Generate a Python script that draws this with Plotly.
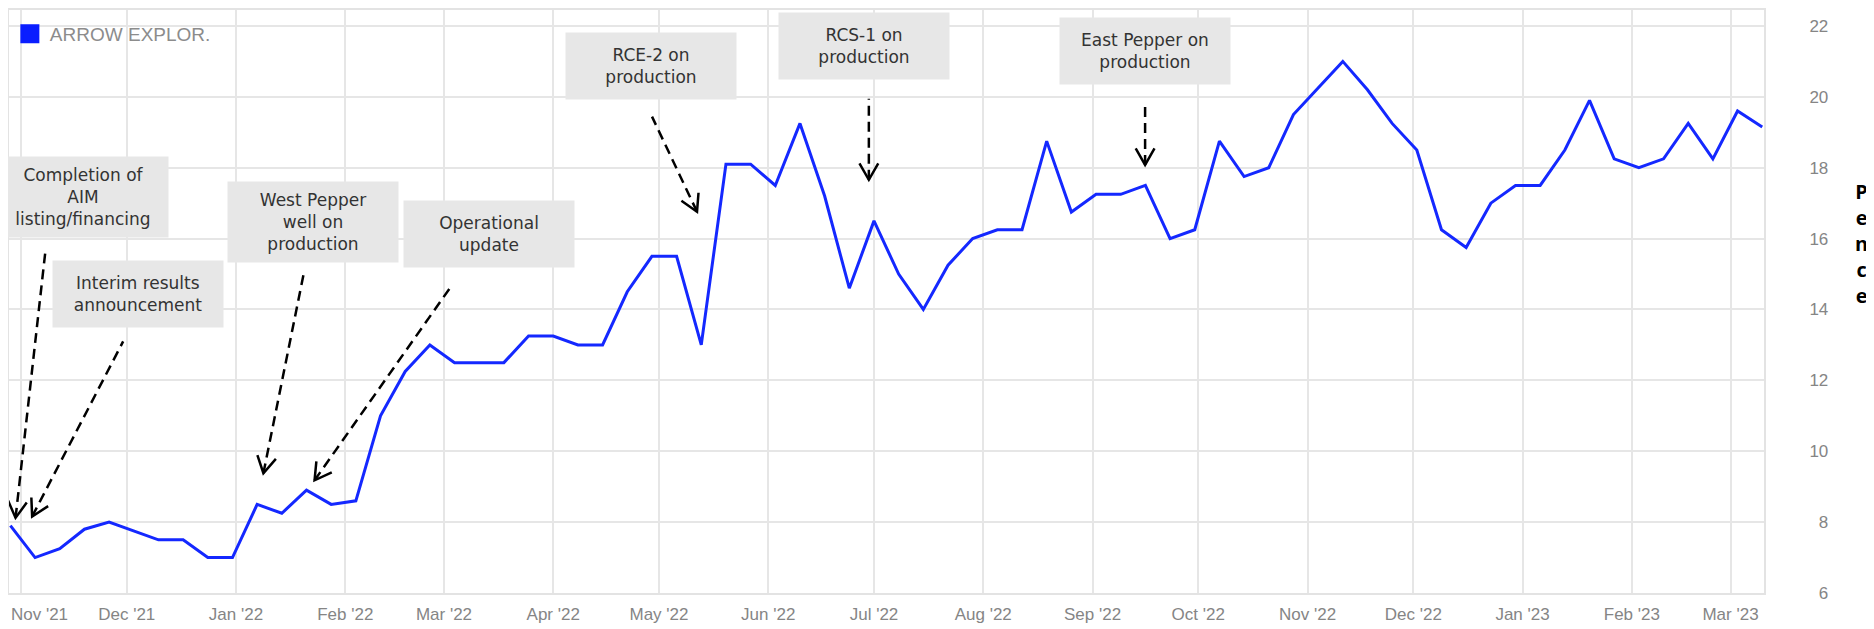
import math
import pandas as pd
import plotly.graph_objects as go

# weekly closes, pence
datas = pd.date_range("2021-10-29", periods=72, freq="7D")
precos = [
    7.9, 7.0, 7.25, 7.8, 8.0, 7.75, 7.5, 7.5, 7.0, 7.0, 8.5, 8.25, 8.9, 8.5, 8.6,
    11.0, 12.25, 13.0, 12.5, 12.5, 12.5, 13.25, 13.25, 13.0, 13.0,
    14.5, 15.5, 15.5, 13.0, 18.1, 18.1, 17.5, 19.25, 17.2, 14.6, 16.5, 15.0, 14.0,
    15.25, 16.0, 16.25, 16.25, 18.75, 16.75, 17.25, 17.25, 17.5, 16.0, 16.25,
    18.75, 17.75, 18.0, 19.5, 20.25, 21.0, 20.2, 19.25, 18.5, 16.25, 15.75, 17.0,
    17.5, 17.5, 18.5, 19.9, 18.25, 18.0, 18.25, 19.25, 18.25, 19.6, 19.15,
]

meses = pd.date_range("2021-11-01", "2023-03-01", freq="MS")
meses_texto = [m.strftime("%b '%y") for m in meses]
# label positions: the first one sits a few days right of its gridline
rotulos_x = [pd.Timestamp("2021-11-06 06:00")] + list(meses[1:])

y_ticks = list(range(6, 23, 2))
y_texto = [("\u2007" + str(v)) if v < 10 else str(v) for v in y_ticks]

# event boxes: text, centre date, centre price, box height
eventos_texto = [
    "Completion of<br>AIM<br>listing/financing",
    "Interim results<br>announcement",
    "West Pepper<br>well on<br>production",
    "Operational<br>update",
    "RCE-2 on<br>production",
    "RCS-1 on<br>production",
    "East Pepper on<br>production",
]
eventos_x = ["2021-11-18 14:00", "2021-12-04 05:00", "2022-01-22 19:00", "2022-03-13 17:00",
             "2022-04-28 17:00", "2022-06-28 02:00", "2022-09-15 20:00"]
eventos_y = [17.18, 14.43, 16.46, 16.12, 20.87, 21.44, 21.30]
eventos_h = [80, 66, 80, 66, 66, 66, 66]

# arrows: tip (date, price) and tail offset in pixels (right, up)
setas_x = ["2021-10-30 11:00", "2021-11-04 04:00", "2022-01-08 18:30", "2022-01-23 07:00",
           "2022-05-11 19:00", "2022-06-29 13:00", "2022-09-15 22:00"]
setas_y = [8.12, 8.16, 9.38, 9.18, 16.76, 17.66, 18.08]
setas_dx = [30, 91, 40, 138, -45, 0, 0]
setas_dy = [268, 175, 198, 196, 95, 81, 63]

fig = go.Figure()
fig.add_trace(go.Scatter(x=datas, y=precos, mode="lines", line=dict(color="#1428ff", width=3),
                         showlegend=False, hoverinfo="x+y"))
fig.add_trace(go.Scatter(x=[None], y=[None], mode="markers", name="ARROW EXPLOR.",
                         marker=dict(symbol="square", size=16, color="#0a1eff",
                                     line=dict(color="#0a1eff", width=3))))
# carrier for the label axis
fig.add_trace(go.Scatter(x=[datas[0]], y=[None], xaxis="x2", mode="lines",
                         showlegend=False, hoverinfo="skip"))

for texto, x, y, h in zip(eventos_texto, eventos_x, eventos_y, eventos_h):
    fig.add_annotation(x=x, y=y, xref="x", yref="y", text=texto, showarrow=False,
                       bgcolor="#e7e7e7", width=170, height=h, borderpad=0,
                       font=dict(family="DejaVu Sans", size=17, color="#333333"))

for x, y, dx, dy in zip(setas_x, setas_y, setas_dx, setas_dy):
    fig.add_shape(type="line", xref="x", yref="y", xsizemode="pixel", ysizemode="pixel",
                  xanchor=x, yanchor=y, x0=0, y0=0, x1=dx, y1=dy,
                  line=dict(color="black", width=2.5, dash="10px,6px"))
    ang = math.atan2(dy, dx)
    braco = []
    for d in (-0.52, 0.52):
        braco.append((19 * math.cos(ang + d), 19 * math.sin(ang + d)))
    caminho = f"M {braco[0][0]:.1f},{braco[0][1]:.1f} L 0,0 L {braco[1][0]:.1f},{braco[1][1]:.1f}"
    fig.add_shape(type="path", xref="x", yref="y", xsizemode="pixel", ysizemode="pixel",
                  xanchor=x, yanchor=y, path=caminho, line=dict(color="black", width=2.5))

fig.add_annotation(x=1.0555, y=0.6, xref="paper", yref="paper", xanchor="center", yanchor="middle",
                   text="<b>P<br>e<br>n<br>c<br>e</b>", showarrow=False,
                   font=dict(family="Open Sans", size=20, color="black"))

x_range = ["2021-10-28 14:24", "2023-03-10 12:00"]
fig.update_layout(
    xaxis=dict(type="date", range=x_range, automargin=False,
               tickvals=meses, showticklabels=False, showgrid=True, gridcolor="#e6e6e6", gridwidth=2,
               showline=True, mirror=True, linecolor="#e3e3e3", linewidth=2, zeroline=False),
    xaxis2=dict(type="date", range=x_range, overlaying="x", side="bottom", automargin=False,
                tickvals=rotulos_x, ticktext=meses_texto, showgrid=False, zeroline=False,
                showline=False, ticks="",
                tickfont=dict(family="Liberation Sans", size=17, color="#858585"),
                ticklabelstandoff=9),
)
fig.update_yaxes(range=[6, 22.45], side="right", tickvals=y_ticks, ticktext=y_texto, automargin=False,
                 showgrid=True, gridcolor="#e6e6e6", gridwidth=2, zeroline=False,
                 showline=True, mirror=True, linecolor="#e3e3e3", linewidth=2,
                 tickfont=dict(family="Liberation Sans", size=17, color="#858585"), ticklabelstandoff=40)

# page body adds an 8px margin, so the figure is 8px smaller and shifted
fig.update_layout(
    width=1866, height=621,
    margin=dict(l=1, r=110, t=2, b=36, autoexpand=False),
    plot_bgcolor="white", paper_bgcolor="white",
    legend=dict(xref="container", yref="container", x=0.001, y=0.989, xanchor="left", yanchor="top",
                bgcolor="rgba(255,255,255,0)",
                font=dict(family="Liberation Sans", size=19, color="#8c8c8c"), itemsizing="trace"),
)

fig.write_html("out.html")
